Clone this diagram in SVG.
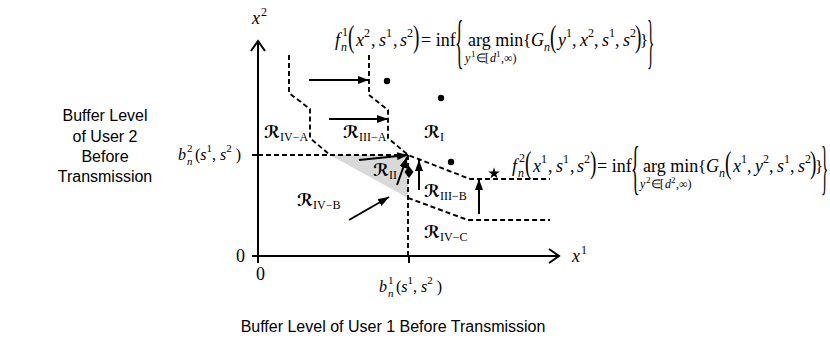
<svg xmlns="http://www.w3.org/2000/svg" width="830" height="345" viewBox="0 0 830 345">
<defs>
<style>
.ax{stroke:#000;stroke-width:2;fill:none}
.ds{stroke:#000;stroke-width:1.9;fill:none;stroke-dasharray:5,3}
.ar{stroke:#000;stroke-width:2;fill:none;marker-end:url(#ah)}
.sans{font-family:"Liberation Sans",Arial,sans-serif;font-size:16px;fill:#000}
.m{font-family:"Liberation Serif","Times New Roman",serif;font-size:18px;fill:#000}
.mi{font-family:"Liberation Serif","Times New Roman",serif;font-size:18px;font-style:italic;fill:#000}
.s{font-family:"Liberation Serif","Times New Roman",serif;font-size:12px;fill:#000}
.si{font-family:"Liberation Serif","Times New Roman",serif;font-size:12px;font-style:italic;fill:#000}
.ss{font-family:"Liberation Serif","Times New Roman",serif;font-size:9px;fill:#000}
.R{font-family:"DejaVu Serif","DejaVu Sans",serif;font-size:17px;font-style:italic;font-weight:bold;fill:#000}
.Rs{font-family:"Liberation Serif","Times New Roman",serif;font-size:12px;fill:#000}
.bp{font-family:"Liberation Serif","Times New Roman",serif;font-size:32px;fill:#000}
.bb{font-family:"Liberation Serif","Times New Roman",serif;font-size:60px;fill:#000}
.b16{font-family:"Liberation Serif","Times New Roman",serif;font-size:16px;fill:#000}
.b11{font-family:"Liberation Serif","Times New Roman",serif;font-size:11px;fill:#000}
.br{font-family:"Liberation Serif","Times New Roman",serif;font-size:17px;fill:#000}
</style>
<marker id="ah" viewBox="0 0 11 8" refX="11" refY="4" markerWidth="11" markerHeight="8" markerUnits="userSpaceOnUse" orient="auto">
<path d="M0,0 L11,4 L0,8 Z" fill="#000"/>
</marker>
</defs>
<rect width="830" height="345" fill="#fff"/>

<g id="axes">
<line class="ax" x1="258" y1="41" x2="258" y2="263"/>
<polyline class="ax" points="251,51 258,41 265,51"/>
<line class="ax" x1="252" y1="256" x2="559" y2="256"/>
<polyline class="ax" points="549,249 559,256 549,263"/>
<line class="ax" x1="252" y1="155" x2="258" y2="155"/>
<line class="ax" x1="409" y1="256" x2="409" y2="263"/>
<text class="mi" x="252" y="24">x</text><text class="s" x="261" y="16">2</text>
<text class="mi" x="572" y="262">x</text><text class="s" x="581" y="254">1</text>
<text class="m" x="236" y="262">0</text>
<text class="m" x="256" y="280">0</text>
</g>

<g id="region-II">
<polygon points="330,155 408,155 408,198" fill="#d9d9d9"/>
</g>

<g id="connectors">
<polyline class="ds" points="289,55 289,93 310,109 310,138 330,155"/>
<polyline class="ds" points="369,55 369,95 388,110 388,138 408,155 470,179 550,179"/>
<line class="ds" x1="258" y1="155" x2="408" y2="155"/>
<line class="ds" x1="408" y1="155" x2="408" y2="256"/>
<polyline class="ds" points="408,198 468,220 550,220"/>
<line class="ar" x1="309" y1="80" x2="369" y2="80"/>
<line class="ar" x1="329" y1="119" x2="388" y2="119"/>
<line class="ar" x1="359" y1="160" x2="408" y2="155"/>
<line class="ar" x1="397" y1="185" x2="407" y2="157"/>
<line class="ar" x1="419" y1="190" x2="419" y2="160"/>
<line class="ar" x1="479" y1="214" x2="479" y2="179"/>
<line class="ar" x1="349" y1="220" x2="389" y2="197"/>
</g>

<g id="points">
<circle cx="387" cy="81" r="3.2"/>
<circle cx="441" cy="98" r="3.2"/>
<circle cx="451" cy="162" r="3.2"/>
<polygon points="409,166 413.5,172 409,178 404.5,172"/>
<polygon points="494,167.5 495.4,171.6 499.7,171.6 496.2,174.2 497.5,178.3 494,175.8 490.5,178.3 491.8,174.2 488.3,171.6 492.6,171.6"/>
</g>

<g id="labels-R">
<text class="R" x="264" y="138">ℛ</text><text class="Rs" x="280" y="141">IV−A</text>
<text class="R" x="343" y="138">ℛ</text><text class="Rs" x="359" y="141">III−A</text>
<text class="R" x="424" y="138">ℛ</text><text class="Rs" x="440" y="141">I</text>
<text class="R" x="373" y="176">ℛ</text><text class="Rs" x="389" y="179">II</text>
<text class="R" x="424" y="197">ℛ</text><text class="Rs" x="440" y="200">III−B</text>
<text class="R" x="297" y="206">ℛ</text><text class="Rs" x="313" y="209">IV−B</text>
<text class="R" x="424" y="238">ℛ</text><text class="Rs" x="440" y="241">IV−C</text>
</g>

<g id="label-b2">
<text class="b16" x="178" y="160" font-style="italic">b</text>
<text class="b11" x="187" y="165" font-style="italic">n</text>
<text class="b11" x="187" y="152">2</text>
<text class="b16" x="195" y="160">(<tspan font-style="italic">s</tspan><tspan class="b11" dy="-8">1</tspan><tspan dy="8">, </tspan><tspan font-style="italic">s</tspan><tspan class="b11" dy="-8">2</tspan><tspan dy="8"> )</tspan></text>
</g>

<g id="label-b1">
<text class="b16" x="379" y="292" font-style="italic">b</text>
<text class="b11" x="388" y="297" font-style="italic">n</text>
<text class="b11" x="388" y="284">1</text>
<text class="b16" x="396" y="292">(<tspan font-style="italic">s</tspan><tspan class="b11" dy="-8">1</tspan><tspan dy="8">, </tspan><tspan font-style="italic">s</tspan><tspan class="b11" dy="-8">2</tspan><tspan dy="8"> )</tspan></text>
</g>

<g id="formula-f1">
<text class="mi" x="335" y="46">f</text>
<text class="si" x="341" y="51">n</text>
<text class="s" x="342" y="36">1</text>
<text class="bp" transform="translate(348,46.5) scale(0.6,1)">(</text>
<text class="mi" x="356" y="46">x</text><text class="s" x="364" y="37">2</text>
<text class="m" x="371" y="46">,</text>
<text class="mi" x="379" y="46">s</text><text class="s" x="386" y="37">1</text>
<text class="m" x="393" y="46">,</text>
<text class="mi" x="400" y="46">s</text><text class="s" x="407" y="37">2</text>
<text class="bp" transform="translate(413,46.5) scale(0.6,1)">)</text>
<text class="m" x="421" y="46">= inf</text>
<text class="bb" transform="translate(455,61) scale(0.3,1)">{</text>
<text class="m" x="468" y="46">arg min</text>
<text class="si" x="465" y="62">y</text><text class="ss" x="471" y="57">1</text><text class="s" x="476" y="62">∈</text><text class="s" x="485" y="62">[</text><text class="si" x="490" y="62">d</text><text class="ss" x="496" y="57">1</text><text class="s" x="501" y="62">,∞)</text>
<text class="br" x="523" y="46">{</text>
<text class="mi" x="531" y="46">G</text><text class="si" x="544" y="51">n</text>
<text class="bp" transform="translate(550,46.5) scale(0.6,1)">(</text>
<text class="mi" x="558" y="46">y</text><text class="s" x="566" y="37">1</text>
<text class="m" x="572" y="46">,</text>
<text class="mi" x="580" y="46">x</text><text class="s" x="588" y="37">2</text>
<text class="m" x="594" y="46">,</text>
<text class="mi" x="602" y="46">s</text><text class="s" x="609" y="37">1</text>
<text class="m" x="615" y="46">,</text>
<text class="mi" x="623" y="46">s</text><text class="s" x="630" y="37">2</text>
<text class="bp" transform="translate(635,46.5) scale(0.6,1)">)</text>
<text class="br" x="640" y="46">}</text>
<text class="bb" transform="translate(647,61) scale(0.25,1)">}</text>
</g>

<g id="formula-f2" transform="translate(175,126)">
<text class="mi" x="337" y="46">f</text>
<text class="si" x="343" y="51">n</text>
<text class="s" x="344" y="36">2</text>
<text class="bp" transform="translate(350,46.5) scale(0.6,1)">(</text>
<text class="mi" x="358" y="46">x</text><text class="s" x="366" y="37">1</text>
<text class="m" x="373" y="46">,</text>
<text class="mi" x="381" y="46">s</text><text class="s" x="388" y="37">1</text>
<text class="m" x="395" y="46">,</text>
<text class="mi" x="402" y="46">s</text><text class="s" x="409" y="37">2</text>
<text class="bp" transform="translate(415,46.5) scale(0.6,1)">)</text>
<text class="m" x="422" y="46">= inf</text>
<text class="bb" transform="translate(456,61) scale(0.3,1)">{</text>
<text class="m" x="468" y="46">arg min</text>
<text class="si" x="465" y="62">y</text><text class="ss" x="471" y="57">2</text><text class="s" x="476" y="62">∈</text><text class="s" x="485" y="62">[</text><text class="si" x="490" y="62">d</text><text class="ss" x="496" y="57">2</text><text class="s" x="501" y="62">,∞)</text>
<text class="br" x="523" y="46">{</text>
<text class="mi" x="531" y="46">G</text><text class="si" x="544" y="51">n</text>
<text class="bp" transform="translate(550,46.5) scale(0.6,1)">(</text>
<text class="mi" x="558" y="46">x</text><text class="s" x="566" y="37">1</text>
<text class="m" x="572" y="46">,</text>
<text class="mi" x="580" y="46">y</text><text class="s" x="588" y="37">2</text>
<text class="m" x="594" y="46">,</text>
<text class="mi" x="602" y="46">s</text><text class="s" x="609" y="37">1</text>
<text class="m" x="615" y="46">,</text>
<text class="mi" x="623" y="46">s</text><text class="s" x="630" y="37">2</text>
<text class="bp" transform="translate(635,46.5) scale(0.6,1)">)</text>
<text class="br" x="640" y="46">}</text>
<text class="bb" transform="translate(646,61) scale(0.25,1)">}</text>
</g>

<g id="caption-y">
<text class="sans" x="105" y="121" text-anchor="middle">Buffer Level</text>
<text class="sans" x="105" y="142" text-anchor="middle">of User 2</text>
<text class="sans" x="105" y="162" text-anchor="middle">Before</text>
<text class="sans" x="105" y="182" text-anchor="middle">Transmission</text>
</g>
<g id="caption-x">
<text class="sans" x="393" y="332" text-anchor="middle">Buffer Level of User 1 Before Transmission</text>
</g>
</svg>
